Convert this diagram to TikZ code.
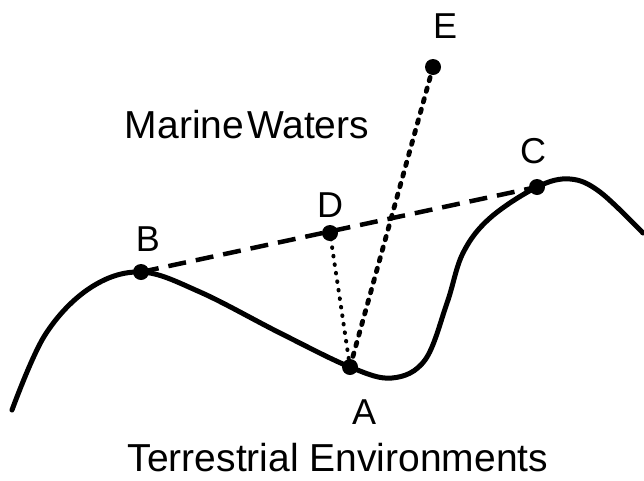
\documentclass[tikz,border=0pt]{standalone}
\usepackage{fontspec}
\setmainfont{Liberation Sans}
\begin{document}
\begin{tikzpicture}[x=1pt,y=-1pt,
  pt/.style={circle,fill=black,inner sep=0pt,minimum size=16pt},
  lbl/.style={font=\fontsize{36}{40}\selectfont,inner sep=0pt,anchor=base},
  big/.style={font=\fontsize{39}{43}\selectfont,inner sep=0pt,anchor=base},
  ridge/.style={line width=5pt,line cap=round},
  chord/.style={line width=4.5pt,dash pattern=on 18pt off 10pt},
  longray/.style={line width=4.8pt,line cap=round,dash pattern=on 3.5pt off 7.5pt},
  shortray/.style={line width=4pt,line cap=round,dash pattern=on 0.6pt off 8pt}]
\useasboundingbox (0,0) rectangle (644,480);

% terrain profile
\draw[ridge] plot[smooth,tension=0.6] coordinates {(12,410) (45,335) (90,288) (141,272) (200,292) (280,333) (350,367) (392,378) (425,360) (447,303) (463,253) (490,218) (537,187) (570,179) (600,192) (643,233)};

% points
\node[pt] (A) at (350,367) {};
\node[pt] (B) at (141,272) {};
\node[pt] (C) at (537,187) {};
\node[pt] (D) at (330,233) {};
\node[pt] (E) at (433,67) {};

% connectors
\draw[chord] (B.center) -- (C.center);
\draw[longray] (A.center) -- (E.center);
\draw[shortray] (A.center) -- (D.center);

% labels
\node[lbl] (lA) at (364,424) {A};
\node[lbl] (lB) at (148,251) {B};
\node[lbl] (lC) at (533,163) {C};
\node[lbl] (lD) at (330,217) {D};
\node[lbl] (lE) at (445,38) {E};
\node[big] (sea) at (247,138) {Marine\hspace{3pt}Waters};
\node[big] (land) at (338,471) {Terrestrial Environments};
\end{tikzpicture}
\end{document}
